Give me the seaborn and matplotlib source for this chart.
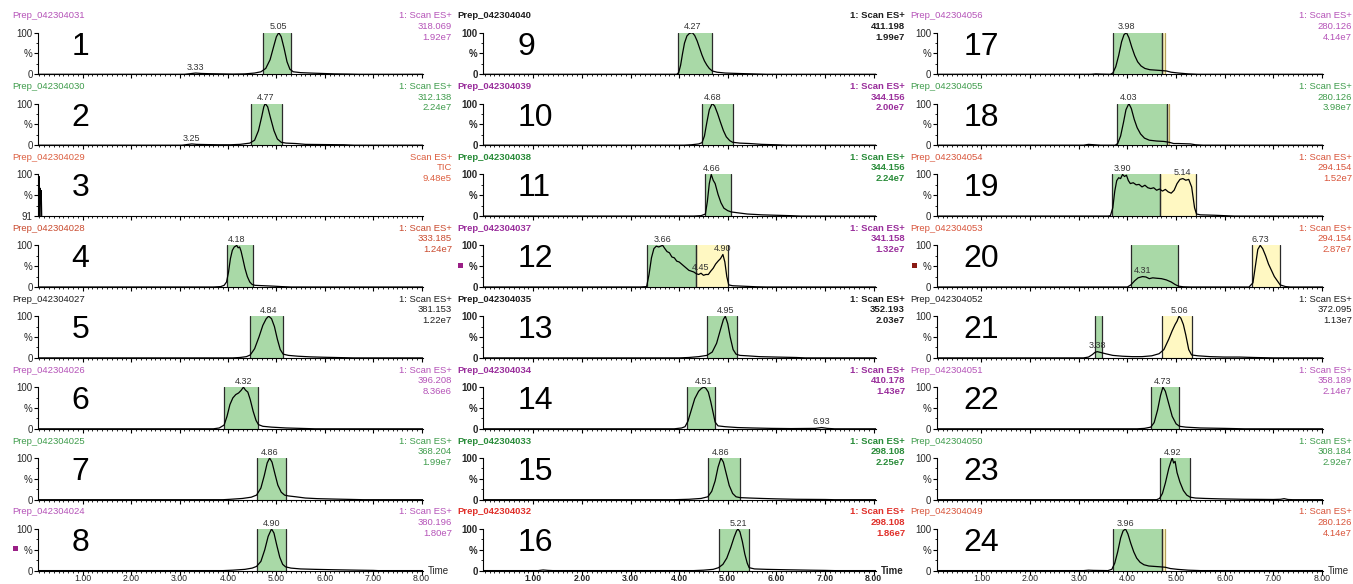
import matplotlib
matplotlib.use("Agg")
import matplotlib.pyplot as plt
import pandas as pd
import seaborn as sns
from matplotlib.ticker import MultipleLocator
from matplotlib.patches import Rectangle

sns.set_style("ticks")
plt.rcParams["font.family"] = ["Liberation Sans", "DejaVu Sans"]

W, H = 1353, 584

# ---- sample annotations (column by column, top to bottom) ----
samples = [
    "Prep_042304031", "Prep_042304030", "Prep_042304029", "Prep_042304028",
    "Prep_042304027", "Prep_042304026", "Prep_042304025", "Prep_042304024",
    "Prep_042304040", "Prep_042304039", "Prep_042304038", "Prep_042304037",
    "Prep_042304035", "Prep_042304034", "Prep_042304033", "Prep_042304032",
    "Prep_042304056", "Prep_042304055", "Prep_042304054", "Prep_042304053",
    "Prep_042304052", "Prep_042304051", "Prep_042304050", "Prep_042304049",
]
channels = ["1: Scan ES+"] * 24
channels[2] = "Scan ES+"
masses = [
    "318.069", "312.138", "TIC", "333.185", "381.153", "396.208", "368.204", "380.196",
    "411.198", "344.156", "344.156", "341.158", "352.193", "410.178", "298.108", "298.108",
    "280.126", "280.126", "294.154", "294.154", "372.095", "358.189", "308.184", "280.126",
]
intensities = [
    "1.92e7", "2.24e7", "9.48e5", "1.24e7", "1.22e7", "8.36e6", "1.99e7", "1.80e7",
    "1.99e7", "2.00e7", "2.24e7", "1.32e7", "2.03e7", "1.43e7", "2.25e7", "1.86e7",
    "4.14e7", "3.98e7", "1.52e7", "2.87e7", "1.13e7", "2.14e7", "2.92e7", "4.14e7",
]
PU, GR, RD, BK = "#b553b8", "#3f9c4c", "#d8543a", "#1e1e1e"
PU2, GR2, RD2 = "#9a2f9c", "#2a8c3a", "#e0302a"
colours = [
    PU, GR, "#dc5f40", "#c94a2e", BK, PU, GR, PU,
    BK, PU2, GR2, PU2, BK, PU2, GR2, RD2,
    PU, GR, RD, RD, BK, PU, GR, RD,
]
markers = {7: "#9a1f86", 11: "#9a1f86", 19: "#8a1a14"}

# ---- chromatogram traces: (retention time [min], relative intensity [%]) ----
trace_01 = [(0.08, 0), (3.10, 0), (3.22, 1.5), (3.33, 3), (3.45, 2), (3.60, 1.5), (3.85, 1), (4.10, 0.5),
            (4.35, 1), (4.55, 3), (4.68, 6), (4.78, 14), (4.87, 35), (4.94, 65), (5.00, 90), (5.05, 100),
            (5.10, 90), (5.16, 62), (5.22, 30), (5.28, 12), (5.35, 6), (5.50, 4), (5.70, 3), (5.95, 2),
            (6.20, 1), (6.50, 0.5), (6.70, 0), (8.03, 0)]
trace_02 = [(0.08, 0), (3.05, 0), (3.15, 1.5), (3.25, 3), (3.35, 2), (3.55, 1.5), (3.80, 1), (4.05, 1),
            (4.25, 2), (4.45, 5), (4.55, 12), (4.63, 35), (4.70, 70), (4.74, 92), (4.77, 100), (4.82, 92),
            (4.88, 65), (4.95, 35), (5.02, 15), (5.10, 7), (5.20, 5), (5.40, 4), (5.60, 2), (6.00, 1.5),
            (6.40, 1), (6.60, 0), (8.03, 0)]
trace_03 = [(0.08, 100), (0.09, 91), (0.10, 99.5), (0.11, 91), (0.12, 97), (0.13, 94.5), (0.14, 96.5),
            (0.15, 91), (0.17, 85)]
trace_04 = [(0.08, 0), (3.70, 0), (3.85, 1), (3.92, 4), (3.97, 12), (4.01, 35), (4.05, 68), (4.09, 88),
            (4.13, 96), (4.16, 98), (4.18, 100), (4.21, 94), (4.24, 96), (4.27, 86), (4.31, 66), (4.35, 45),
            (4.40, 25), (4.45, 12), (4.50, 6), (4.56, 4), (4.75, 3), (4.95, 2), (5.10, 1), (5.30, 0), (8.03, 0)]
trace_05 = [(0.08, 0), (4.10, 0), (4.25, 1), (4.38, 3), (4.46, 7), (4.55, 22), (4.64, 50), (4.72, 78),
            (4.79, 94), (4.84, 100), (4.90, 94), (4.96, 75), (5.02, 45), (5.08, 20), (5.14, 9), (5.25, 6),
            (5.45, 4), (5.70, 2.5), (6.00, 1.5), (6.40, 0.5), (6.60, 0), (8.03, 0)]
trace_06 = [(0.08, 0), (3.70, 0), (3.82, 2), (3.92, 9), (3.98, 30), (4.04, 58), (4.10, 74), (4.16, 82),
            (4.22, 86), (4.27, 92), (4.32, 100), (4.36, 93), (4.41, 88), (4.46, 70), (4.52, 42), (4.58, 20),
            (4.63, 10), (4.72, 6), (4.90, 4), (5.20, 2), (5.50, 1), (5.80, 0), (8.03, 0)]
trace_07 = [(0.08, 0), (3.90, 0), (4.05, 1), (4.30, 3), (4.48, 6), (4.59, 11), (4.68, 28), (4.75, 58),
            (4.81, 88), (4.86, 100), (4.91, 90), (4.97, 62), (5.03, 35), (5.10, 18), (5.17, 11), (5.25, 9),
            (5.40, 7), (5.60, 4), (5.85, 2.5), (6.20, 1.5), (6.60, 0.5), (6.80, 0), (8.03, 0)]
trace_08 = [(0.08, 0), (3.90, 0), (4.10, 1), (4.35, 3), (4.50, 6), (4.59, 10), (4.68, 22), (4.76, 50),
            (4.83, 82), (4.90, 100), (4.95, 90), (5.01, 60), (5.07, 32), (5.13, 15), (5.19, 9), (5.30, 6),
            (5.50, 4), (5.80, 3), (6.20, 2), (6.70, 1), (7.00, 0.5), (7.10, 0), (8.03, 0)]
trace_09 = [(-0.03, 0), (3.95, 0), (3.99, 4), (4.03, 22), (4.07, 50), (4.11, 75), (4.16, 92), (4.21, 98),
            (4.27, 100), (4.32, 93), (4.37, 80), (4.42, 63), (4.47, 46), (4.52, 32), (4.57, 22), (4.62, 14),
            (4.68, 8), (4.78, 5), (4.95, 3), (5.20, 2), (5.50, 1), (5.80, 0), (8.05, 0)]
trace_10 = [(-0.03, 0), (4.10, 0), (4.25, 1), (4.40, 3), (4.47, 6), (4.52, 22), (4.57, 55), (4.62, 85),
            (4.68, 100), (4.73, 94), (4.79, 76), (4.85, 55), (4.91, 35), (4.97, 20), (5.04, 11), (5.10, 7),
            (5.25, 5), (5.45, 4), (5.70, 2), (6.00, 1), (6.20, 0), (8.05, 0)]
trace_11 = [(-0.03, 0), (4.30, 0), (4.45, 1), (4.54, 5), (4.58, 35), (4.62, 78), (4.66, 100), (4.70, 86),
            (4.74, 78), (4.80, 52), (4.86, 32), (4.92, 19), (5.00, 13), (5.07, 10), (5.20, 8), (5.40, 5),
            (5.70, 3), (6.00, 2), (6.30, 1), (6.50, 0), (8.05, 0)]
trace_12 = [(-0.03, 0), (3.20, 0), (3.33, 1), (3.38, 30), (3.43, 70), (3.48, 92), (3.53, 98), (3.58, 96),
            (3.62, 98), (3.66, 100), (3.70, 93), (3.75, 85), (3.80, 82), (3.85, 72), (3.90, 70), (3.95, 62),
            (4.00, 60), (4.05, 55), (4.10, 50), (4.15, 45), (4.20, 40), (4.25, 38), (4.30, 36), (4.35, 32),
            (4.40, 30), (4.45, 33), (4.50, 28), (4.55, 30), (4.60, 30), (4.65, 38), (4.70, 45), (4.75, 55),
            (4.80, 62), (4.85, 68), (4.90, 78), (4.94, 60), (4.98, 25), (5.02, 5), (5.10, 3), (5.30, 2),
            (5.60, 0.5), (5.80, 0), (8.05, 0)]
trace_13 = [(-0.03, 0), (4.00, 0), (4.20, 1), (4.40, 3), (4.57, 6), (4.68, 14), (4.77, 35), (4.85, 68),
            (4.91, 92), (4.95, 100), (5.00, 82), (5.05, 50), (5.11, 20), (5.17, 9), (5.25, 6), (5.40, 5),
            (5.65, 3), (6.00, 2), (6.40, 1), (6.60, 0), (8.05, 0)]
trace_14 = [(-0.03, 0), (3.90, 0), (4.05, 2), (4.12, 5), (4.18, 18), (4.25, 45), (4.32, 72), (4.40, 90),
            (4.46, 97), (4.51, 100), (4.55, 97), (4.60, 88), (4.65, 65), (4.70, 38), (4.74, 16), (4.80, 7),
            (4.95, 5), (5.20, 3), (5.50, 2), (5.90, 1), (6.30, 0.5), (6.80, 1), (6.93, 3), (7.05, 1),
            (7.20, 0), (8.05, 0)]
trace_15 = [(-0.03, 0), (3.90, 0), (4.20, 1), (4.45, 3), (4.59, 7), (4.67, 20), (4.74, 45), (4.80, 78),
            (4.86, 100), (4.91, 90), (4.97, 62), (5.03, 34), (5.10, 15), (5.17, 7), (5.25, 5), (5.45, 4),
            (5.70, 3), (6.00, 2), (6.40, 1), (7.00, 0.5), (7.20, 0), (8.05, 0)]
trace_16 = [(-0.03, 0), (1.10, 0), (1.20, 1.5), (1.30, 0.5), (1.40, 0), (4.30, 0), (4.50, 1), (4.70, 3),
            (4.81, 7), (4.90, 15), (4.98, 30), (5.06, 55), (5.13, 80), (5.18, 95), (5.21, 100), (5.25, 93),
            (5.30, 70), (5.35, 40), (5.40, 18), (5.44, 7), (5.55, 4), (5.80, 3), (6.20, 2), (6.70, 1),
            (7.00, 0.5), (7.20, 0), (8.05, 0)]
trace_17 = [(0.08, 0), (3.25, 0), (3.35, 1), (3.45, 0.5), (3.65, 0), (3.70, 3), (3.76, 18), (3.82, 45),
            (3.88, 78), (3.93, 95), (3.98, 100), (4.03, 88), (4.09, 65), (4.15, 45), (4.21, 30), (4.28, 20),
            (4.36, 14), (4.46, 11), (4.58, 10), (4.70, 9), (4.80, 8), (4.90, 5), (5.05, 3), (5.25, 1),
            (5.45, 0), (8.03, 0)]
trace_18 = [(0.08, 0), (3.10, 0), (3.20, 2), (3.32, 1), (3.45, 0), (3.75, 0), (3.80, 4), (3.86, 22),
            (3.92, 55), (3.97, 85), (4.03, 100), (4.08, 88), (4.14, 62), (4.20, 42), (4.27, 27), (4.35, 17),
            (4.45, 12), (4.60, 10), (4.75, 9), (4.86, 7), (4.95, 4), (5.05, 4), (5.30, 3), (5.40, 1),
            (5.55, 0), (8.03, 0)]
trace_19 = [(0.08, 0), (3.60, 0), (3.65, 1), (3.70, 20), (3.74, 60), (3.78, 85), (3.82, 92), (3.86, 90),
            (3.90, 100), (3.94, 95), (3.98, 98), (4.02, 85), (4.06, 78), (4.12, 80), (4.18, 75), (4.24, 76),
            (4.30, 70), (4.36, 74), (4.42, 68), (4.48, 66), (4.54, 68), (4.60, 62), (4.66, 65), (4.72, 60),
            (4.78, 64), (4.84, 58), (4.90, 55), (4.96, 62), (5.02, 78), (5.08, 88), (5.14, 90), (5.20, 86),
            (5.26, 88), (5.32, 70), (5.38, 20), (5.42, 5), (5.50, 3), (5.80, 2), (6.00, 1), (6.20, 0),
            (8.03, 0)]
trace_20 = [(0.08, 0), (4.00, 0), (4.07, 5), (4.15, 15), (4.22, 22), (4.31, 25), (4.38, 24), (4.45, 20),
            (4.52, 22), (4.60, 21), (4.70, 20), (4.80, 17), (4.90, 12), (4.98, 6), (5.05, 2), (5.15, 0.5),
            (5.30, 0), (6.50, 0), (6.58, 10), (6.63, 50), (6.68, 90), (6.73, 100), (6.78, 92), (6.84, 75),
            (6.90, 55), (6.96, 40), (7.02, 25), (7.08, 15), (7.14, 5), (7.25, 1), (7.35, 0), (8.03, 0)]
trace_21 = [(0.08, 0), (3.10, 0), (3.20, 2), (3.28, 8), (3.33, 13), (3.38, 15), (3.45, 13), (3.55, 10),
            (3.70, 6), (3.90, 4), (4.10, 3), (4.30, 3), (4.50, 5), (4.65, 10), (4.75, 20), (4.85, 45),
            (4.92, 65), (4.98, 80), (5.02, 88), (5.06, 100), (5.10, 95), (5.15, 80), (5.20, 55), (5.26, 20),
            (5.32, 7), (5.45, 5), (5.70, 3), (6.00, 2), (6.30, 2), (6.60, 1), (7.00, 0), (8.03, 0)]
trace_22 = [(0.08, 0), (4.20, 0), (4.35, 1), (4.48, 4), (4.55, 15), (4.62, 45), (4.68, 80), (4.73, 100),
            (4.78, 90), (4.85, 60), (4.92, 30), (5.00, 12), (5.07, 6), (5.20, 4), (5.50, 2), (6.00, 1),
            (6.40, 0), (8.03, 0)]
trace_23 = [(0.08, 0), (4.60, 0), (4.66, 3), (4.72, 15), (4.78, 40), (4.85, 75), (4.89, 90), (4.92, 100),
            (4.95, 88), (4.98, 92), (5.02, 65), (5.08, 42), (5.15, 22), (5.22, 11), (5.29, 6), (5.40, 4),
            (5.60, 3), (5.90, 2), (6.40, 1), (7.00, 0.5), (7.15, 1), (7.22, 2.5), (7.30, 0.5), (7.40, 0),
            (8.03, 0)]
trace_24 = [(0.08, 0), (3.10, 0), (3.20, 1), (3.30, 0.5), (3.60, 0), (3.68, 3), (3.74, 18), (3.80, 45),
            (3.86, 78), (3.91, 95), (3.96, 100), (4.01, 88), (4.07, 65), (4.13, 45), (4.19, 30), (4.26, 20),
            (4.34, 14), (4.44, 11), (4.56, 10), (4.68, 9), (4.78, 8), (4.88, 5), (5.03, 3), (5.25, 1),
            (5.50, 0), (8.03, 0)]
traces = [trace_01, trace_02, trace_03, trace_04, trace_05, trace_06, trace_07, trace_08,
          trace_09, trace_10, trace_11, trace_12, trace_13, trace_14, trace_15, trace_16,
          trace_17, trace_18, trace_19, trace_20, trace_21, trace_22, trace_23, trace_24]

# integration windows: (start, end, fill) ; g = green, y = yellow
windows = [
    [(4.73, 5.30, "g")], [(4.47, 5.11, "g")], [], [(3.97, 4.52, "g")],
    [(4.46, 5.14, "g")], [(3.92, 4.62, "g")], [(4.59, 5.19, "g")], [(4.59, 5.19, "g")],
    [(3.98, 4.68, "g")], [(4.47, 5.10, "g")], [(4.54, 5.07, "g")], [(3.33, 4.35, "g"), (4.35, 5.01, "y")],
    [(4.57, 5.20, "g")], [(4.16, 4.74, "g")], [(4.59, 5.25, "g")], [(4.81, 5.44, "g")],
    [(3.71, 4.71, "g"), (4.71, 4.78, "y")], [(3.79, 4.81, "g"), (4.81, 4.86, "y")],
    [(3.68, 4.67, "g"), (4.67, 5.41, "y")], [(4.07, 5.03, "g"), (6.56, 7.14, "y")],
    [(3.33, 3.47, "g"), (4.72, 5.32, "y")], [(4.48, 5.07, "g")], [(4.66, 5.29, "g")],
    [(3.71, 4.71, "g"), (4.71, 4.78, "y")],
]
# labelled retention times
peak_rts = [
    [3.33, 5.05], [3.25, 4.77], [], [4.18], [4.84], [4.32], [4.86], [4.90],
    [4.27], [4.68], [4.66], [3.66, 4.45, 4.90], [4.95], [4.51, 6.93], [4.86], [5.21],
    [3.98], [4.03], [3.90, 5.14], [4.31, 6.73], [3.38, 5.06], [4.73], [4.92], [3.96],
]
x_ticks = [1, 2, 3, 4, 5, 6, 7, 8]
x_ticklabels = ["1.00", "2.00", "3.00", "4.00", "5.00", "6.00", "7.00", "8.00"]

# ---- layout (pixels) ----
col_left = [38.3, 483.3, 936.7]
col_right = [423.0, 876.0, 1323.0]
col_xmin = [0.08, -0.03, 0.08]
col_xmax = [8.03, 8.05, 8.02]
num_dx = [33, 34, 27]
row_top0, row_pitch, ax_h = 32.6, 70.9, 41.7
FILL = {"g": "#a9d9a7", "y": "#fff8c2"}

fig = plt.figure(figsize=(W / 100, H / 100), dpi=100)


def ftext(x, y, s, **kw):
    fig.text(x / W, 1 - y / H, s, **kw)


for i in range(24):
    col, row = divmod(i, 8)
    L, R = col_left[col], col_right[col]
    T = row_top0 + row * row_pitch
    weight = "bold" if col == 1 else "normal"
    ax = fig.add_axes([L / W, 1 - (T + ax_h) / H, (R - L) / W, ax_h / H])

    for (a, b, k) in windows[i]:
        ax.axvspan(a, b, color=FILL[k], lw=0, zorder=0)
        ax.axvline(a, color="#2a2a2a", lw=0.9, zorder=1)
        ax.axvline(b, color="#2a2a2a" if (b - a) > 0.1 else "#b3a25a", lw=0.9, zorder=1)

    df = pd.DataFrame(traces[i], columns=["time", "pct"])
    sns.lineplot(data=df, x="time", y="pct", ax=ax, color="black", lw=0.9,
                 sort=False, estimator=None, zorder=3)
    ax.set_xlabel("")
    ax.set_ylabel("")

    ymin = 91 if i == 2 else 0
    ax.set_xlim(col_xmin[col], col_xmax[col])
    ax.set_ylim(ymin, 100)
    for s in ("top", "right"):
        ax.spines[s].set_visible(False)
    for s in ("left", "bottom"):
        ax.spines[s].set_color("black")
        ax.spines[s].set_linewidth(0.8)

    ax.set_yticks([ymin, (ymin + 100) / 2, 100])
    ax.set_yticklabels([f"{ymin}", "%", "100"], fontsize=7, fontweight=weight)
    ax.set_yticks([ymin + (100 - ymin) * f for f in (0.25, 0.75)], minor=True)
    ax.tick_params(axis="y", which="major", length=3, width=0.8, pad=1, color="black")
    ax.tick_params(axis="y", which="minor", length=1.6, width=0.6, color="black")

    ax.set_xticks(x_ticks)
    ax.xaxis.set_minor_locator(MultipleLocator(0.1))
    ax.tick_params(axis="x", which="major", length=2.6, width=0.8, pad=0, color="black")
    ax.tick_params(axis="x", which="minor", length=1.6, width=0.6, color="black")
    if row == 7:
        ax.set_xticklabels(x_ticklabels, fontsize=6.3, fontweight=weight)
        ftext(R + 5, T + ax_h, "Time", ha="left", va="center", fontsize=7, fontweight=weight)
    else:
        ax.set_xticklabels([])

    # retention-time labels above the apex
    lookup = dict(traces[i])
    for rt in peak_rts[i]:
        ax.text(rt, lookup[rt] + 3, f"{rt:.2f}", ha="center", va="bottom", fontsize=6.5,
                color="#333333", clip_on=False, zorder=4)

    c = colours[i]
    ftext(L - 26, T - 17, samples[i], ha="left", va="center", fontsize=6.8, color=c, fontweight=weight)
    ftext(R + 29, T - 17, channels[i], ha="right", va="center", fontsize=6.8, color=c, fontweight=weight)
    ftext(R + 29, T - 6.4, masses[i], ha="right", va="center", fontsize=6.8, color=c, fontweight=weight)
    ftext(R + 29, T + 4.5, intensities[i], ha="right", va="center", fontsize=6.8, color=c, fontweight=weight)
    ftext(L + num_dx[col], T + 14, str(i + 1), ha="left", va="center", fontsize=23, color="black")

    if i in markers:
        fig.patches.append(Rectangle(((L - 25) / W, 1 - (T + 22.5) / H), 5 / W, 5 / H,
                                     transform=fig.transFigure, color=markers[i], lw=0))

fig.savefig("out.png", dpi=100)
